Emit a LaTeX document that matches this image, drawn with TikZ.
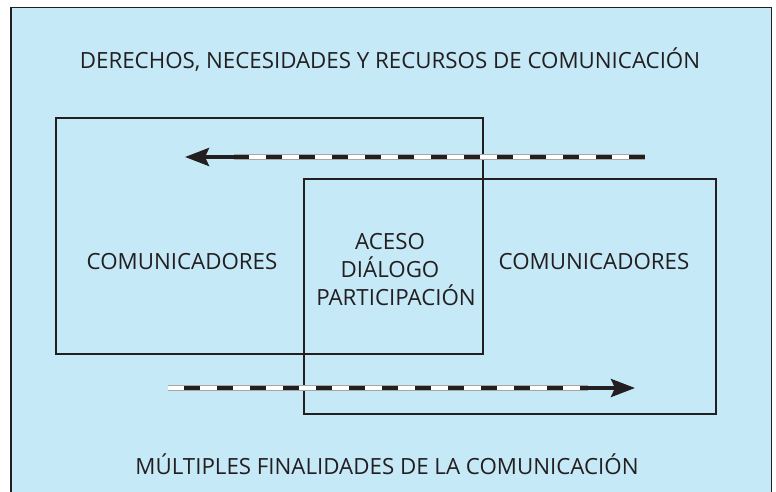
\documentclass[tikz,border=0pt]{standalone}
\usepackage{fontspec}
\setmainfont{Open Sans}
\usetikzlibrary{arrows.meta}
\definecolor{bgblue}{HTML}{C6E9F8}
\definecolor{ink}{HTML}{231F20}
\tikzset{
  lbl/.style={font=\fontsize{22.3}{28}\selectfont, text=ink, inner sep=0pt, align=center},
  boxline/.style={draw=ink, line width=2.2pt},
  railgray/.style={draw=black!35, line width=5.2pt},
  railwhite/.style={draw=white, line width=3.8pt},
  raildash/.style={draw=ink, line width=3.8pt, dash pattern=on 16pt off 17pt},
  railhead/.style={draw=ink, line width=3.8pt, -{Stealth[length=24pt,width=18pt,inset=4pt]}}
}
\begin{document}
\begin{tikzpicture}[x=1pt,y=-1pt]
\useasboundingbox (0,0) rectangle (776,492);
\fill[white] (0,0) rectangle (776,492);
\filldraw[fill=bgblue, draw=ink, line width=1.8pt] (11,520) -- (11,7.5) -- (771.5,7.5) -- (771.5,520);
\node[lbl] (top) at (390,60) {DERECHOS, NECESIDADES Y RECURSOS DE COMUNICACIÓN};
\node[lbl] (bot) at (387,464) {MÚLTIPLES FINALIDADES DE LA COMUNICACIÓN};
\node[boxline, minimum width=427pt, minimum height=236pt, inner sep=0pt] (boxL) at (269.5,236) {};
\node[boxline, minimum width=412pt, minimum height=235pt, inner sep=0pt] (boxR) at (510,296.5) {};
\node[lbl] (comL) at (182,262) {COMUNICADORES};
\node[lbl] (comR) at (594,262) {COMUNICADORES};
\node[lbl] (mid) at (390,270) {ACESO\\DIÁLOGO\\\hspace*{12pt}PARTICIPACIÓN};
% upper arrow
\coordinate (u1) at (645,157);
\coordinate (u2) at (234,157);
\coordinate (u3) at (185,157);
\draw[railgray] (u1) -- (u2);
\draw[railwhite] (u1) -- (u2);
\draw[raildash, dash phase=0pt] (u1) -- (u2);
\draw[railhead] (u2) -- (u3);
% lower arrow
\coordinate (l1) at (168,388);
\coordinate (l2) at (588,388);
\coordinate (l3) at (635,388);
\draw[railgray] (l1) -- (l2);
\draw[railwhite] (l1) -- (l2);
\draw[raildash, dash phase=-16pt] (l1) -- (l2);
\draw[railhead] (l2) -- (l3);
\end{tikzpicture}
\end{document}
